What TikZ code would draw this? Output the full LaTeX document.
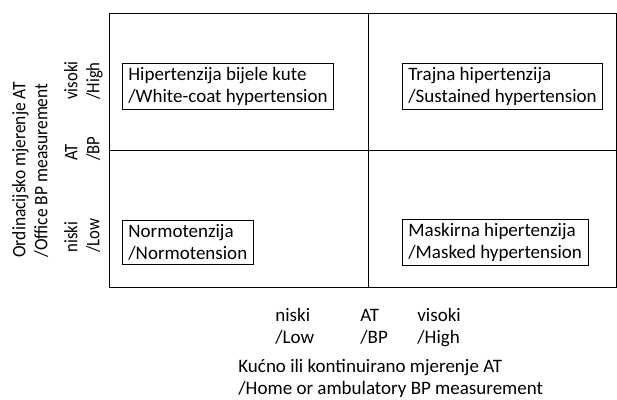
\documentclass[tikz,border=0pt]{standalone}
\usepackage{fontspec}
\setmainfont{Carlito}
\usepackage{graphicx}
\usepackage{tikz}
% two stacked lines of equal height
\newcommand{\twolines}[2]{#1\strut\\#2\strut}
% same, squeezed along the reading direction (for the rotated labels)
\newcommand{\rotlines}[3][0.88]{\scalebox{#1}[1]{#2}\strut\\\scalebox{#1}[1]{#3}\strut}
\tikzset{
  quadbox/.style={draw, align=left, anchor=west, inner xsep=6pt, inner ysep=4pt},
  axislabel/.style={align=left, anchor=west, inner sep=0pt},
}
\begin{document}
\begin{tikzpicture}[x=1pt,y=-1pt,font=\fontsize{19}{22}\selectfont,line width=0.8pt]
  \useasboundingbox (0,0) rectangle (617,399);
  % frame and dividers
  \draw (109,13) rectangle (616,287);
  \draw (368,13) -- (368,287);
  \draw (109,150) -- (616,150);
  % the four quadrants
  \foreach \px/\py/\nm/\txt in {%
    122/86.5/whitecoat/{Hipertenzija bijele kute\\/White-coat hypertension},
    402/86.5/sustained/{Trajna hipertenzija\\/Sustained hypertension},
    122/242.5/normo/{Normotenzija\\/Normotension},
    402/242.5/masked/{Maskirna hipertenzija\\/Masked hypertension}}{%
    \node[quadbox] (\nm) at (\px,\py) {\txt};
  }
  % vertical axis
  \node[axislabel,rotate=90] (yhigh) at (84,100) {\rotlines{visoki}{/High}};
  \node[axislabel,rotate=90] (ybp) at (84,161) {\rotlines{AT}{/BP}};
  \node[axislabel,rotate=90] (ylow) at (84,253) {\rotlines{niski}{/Low}};
  \node[axislabel,rotate=90] (ytitle) at (32,258) {\rotlines[0.92]{Ordinacijsko mjerenje AT}{/Office BP measurement}};
  % horizontal axis
  \node[axislabel] (xlow) at (275,328) {\twolines{niski}{/Low}};
  \node[axislabel] (xbp) at (360,328) {\twolines{AT}{/BP}};
  \node[axislabel] (xhigh) at (417,328) {\twolines{visoki}{/High}};
  \node[axislabel] (xtitle) at (238,379) {\twolines{Kućno ili kontinuirano mjerenje AT}{/Home or ambulatory BP measurement}};
\end{tikzpicture}
\end{document}
